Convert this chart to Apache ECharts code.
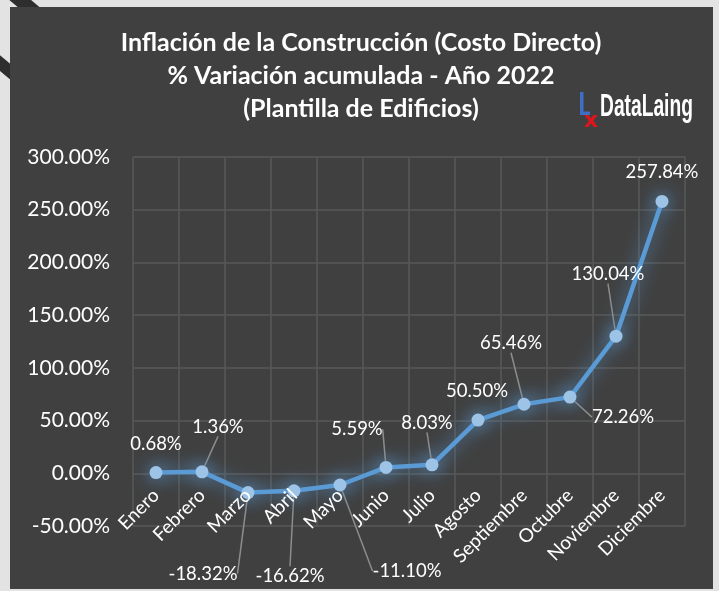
<!DOCTYPE html>
<html>
<head>
<meta charset="utf-8">
<script src="https://cdn.jsdelivr.net/npm/echarts@6/dist/echarts.min.js"></script>
<style>
  html, body { margin: 0; padding: 0; }
  body { width: 719px; height: 591px; background: #e3e3e3; position: relative; overflow: hidden; }
  .stripe { position: absolute; background: #2e2e2e; transform: rotate(40deg); }
  #panel { position: absolute; left: 10px; top: 7px; width: 703px; height: 582px; background: #404040; }
  #chart { width: 703px; height: 582px; }
</style>
</head>
<body>
<div class="stripe" style="left:-6px; top:-8px; width:50px; height:14px;"></div>
<div class="stripe" style="left:-16px; top:58px; width:34px; height:12px;"></div>
<div id="panel"><div id="chart"></div></div>
<script>
// datos
const months = ['Enero', 'Febrero', 'Marzo', 'Abril', 'Mayo', 'Junio', 'Julio',
  'Agosto', 'Septiembre', 'Octubre', 'Noviembre', 'Diciembre']
const variacion = [0.68, 1.36, -18.32, -16.62, -11.10, 5.59, 8.03, 50.50, 65.46, 72.26, 130.04, 257.84]
const titleLines = ['Inflación de la Construcción (Costo Directo)',
  '% Variación acumulada - Año 2022', '(Plantilla de Edificios)']
const yMin = -50
const yMax = 300
const yStep = 50

// posicion de cada etiqueta respecto al punto (px), y si lleva linea guia
const labelShift = [
  [0, -29, false], [16, -45, true], [-45, 81, true], [-4, 85, true],
  [67, 86, true], [-29, -38, true], [-5, -42, true], [-1, -29, false],
  [-13, -61, true], [53, 20, true], [-8, -62, true], [0, -29, false]
]

const font = 'Lato, "Open Sans", sans-serif'
const gridH = 369
// el eje de categorias cruza en 0 (como en Excel)
const zeroOffset = -gridH * (0 - yMin) / (yMax - yMin)
const chart = echarts.init(document.getElementById('chart'))

const titleGraphics = titleLines.map((t, i) => ({
  type: 'text', x: 351, y: 36 + i * 33,
  style: {
    text: t, fill: '#ffffff', font: 'bold 25px ' + font,
    align: 'center', verticalAlign: 'middle'
  }
}))

const option = {
  backgroundColor: 'transparent',
  animation: false,
  textStyle: { fontFamily: font },
  graphic: titleGraphics.concat([
    // logo DataLaing
    { type: 'rect', shape: { x: 570, y: 85, width: 3.5, height: 23 }, style: { fill: '#3f6fc4' } },
    { type: 'rect', shape: { x: 570, y: 104.5, width: 10, height: 3.5 }, style: { fill: '#3f6fc4' } },
    {
      type: 'text', x: 581, y: 114,
      style: { text: 'x', fill: '#e0141c', font: 'bold 22px "DejaVu Sans"', align: 'center', verticalAlign: 'middle' }
    },
    {
      type: 'text', x: 590, y: 100, scaleX: 0.62,
      style: { text: 'DataLaing', fill: '#ffffff', font: 'bold 31px "Liberation Sans"', verticalAlign: 'middle' }
    }
  ]),
  grid: { left: 123, top: 150, width: 552, height: gridH, containLabel: false, outerBoundsMode: 'none' },
  xAxis: [
    {
      // rejilla vertical
      type: 'category',
      data: months,
      position: 'bottom',
      boundaryGap: true,
      axisLine: { show: false },
      axisTick: { show: false },
      axisLabel: { show: false },
      splitLine: { show: true, interval: 0, lineStyle: { color: '#595959', width: 1.5 } }
    },
    {
      // etiquetas de meses por encima de la serie
      type: 'category',
      data: months,
      position: 'bottom',
      offset: zeroOffset,
      boundaryGap: true,
      z: 5,
      axisLine: { show: false },
      axisTick: { show: false },
      splitLine: { show: false },
      axisLabel: { color: '#ffffff', fontSize: 19, rotate: 45, margin: 19, interval: 0, hideOverlap: false }
    }
  ],
  yAxis: {
    type: 'value',
    min: yMin,
    max: yMax,
    interval: yStep,
    axisLine: { show: false },
    axisTick: { show: false },
    splitLine: { lineStyle: { color: '#595959', width: 1.5 } },
    axisLabel: {
      color: '#ffffff', fontSize: 21, margin: 23,
      formatter: v => v.toFixed(2) + '%'
    }
  },
  series: [{
    type: 'line',
    xAxisIndex: 0,
    data: variacion.map((v, i) => ({
      value: v,
      labelLine: { show: labelShift[i][2] }
    })),
    symbol: 'circle',
    symbolSize: 13,
    lineStyle: {
      color: '#5b9bd5', width: 4.5,
      shadowColor: 'rgba(91,155,213,0.95)', shadowBlur: 18
    },
    itemStyle: {
      color: '#9dc3e6',
      shadowColor: 'rgba(91,155,213,1)', shadowBlur: 18
    },
    label: {
      show: true,
      position: 'inside',
      color: '#ffffff',
      fontSize: 18.5,
      formatter: p => p.value.toFixed(2) + '%'
    },
    labelLine: {
      show: true,
      lineStyle: { color: '#8c8c8c', width: 1.5 }
    },
    labelLayout: p => ({
      dx: labelShift[p.dataIndex][0],
      dy: labelShift[p.dataIndex][1]
    })
  }]
}

chart.setOption(option)
</script>
</body>
</html>
